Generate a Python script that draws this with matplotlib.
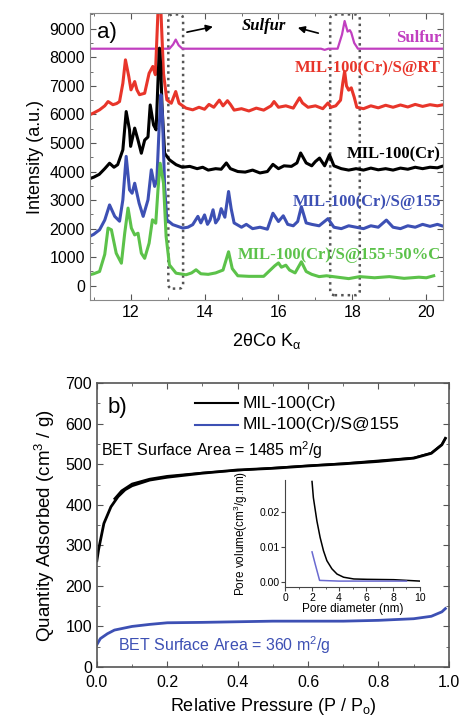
import matplotlib
matplotlib.use('Agg')
import matplotlib.pyplot as plt
from matplotlib.patches import FancyBboxPatch
from matplotlib.ticker import MultipleLocator, FormatStrFormatter

plt.rcParams['font.family'] = ['Liberation Sans', 'DejaVu Sans']
plt.rcParams['mathtext.fontset'] = 'custom'
plt.rcParams['mathtext.rm'] = 'Liberation Sans'
plt.rcParams['mathtext.it'] = 'Liberation Sans:italic'

# ---- panel a: XRD patterns (2theta, intensity) ----
sulfur_x = [10.9, 13.05, 13.15, 13.22, 13.3, 13.4, 17.15, 17.25, 17.35, 17.6, 17.72, 17.79,
            17.87, 17.93, 17.97, 18.05, 18.15, 20.45]
sulfur_y = [8300, 8300, 8450, 8620, 8420, 8300, 8300, 8260, 8300, 8300, 8800, 9270,
            8900, 8950, 8860, 8500, 8300, 8300]

rt_x = [10.89, 11.0, 11.16, 11.3, 11.39, 11.52, 11.62, 11.70, 11.79, 11.86, 11.95, 12.01, 12.11,
        12.17, 12.24, 12.38, 12.5, 12.6, 12.67, 12.74, 12.78, 12.82, 12.89, 12.98, 13.1, 13.22,
        13.31, 13.5, 13.68, 13.85, 14.0, 14.12, 14.25, 14.4, 14.5, 14.62, 14.7, 14.8, 15.0, 15.2,
        15.4, 15.6, 15.8, 15.88, 16.0, 16.2, 16.4, 16.57, 16.65, 16.8, 17.0, 17.2, 17.34, 17.42,
        17.55, 17.68, 17.74, 17.79, 17.84, 17.9, 17.97, 18.05, 18.12, 18.3, 18.5, 18.7, 18.9,
        19.1, 19.3, 19.5, 19.7, 19.9, 20.1, 20.3, 20.42]
rt_y = [5985, 6050, 6160, 6300, 6450, 6340, 6380, 6450, 7090, 7910, 7330, 6860, 7150,
        6860, 6690, 6740, 7440, 7680, 7390, 9600, 9700, 9600, 7430, 6510, 6390, 6800,
        6390, 6220, 6160, 6250, 6180, 6350, 6250, 6500, 6300, 6480, 6350, 6150, 6200, 6120,
        6220, 6150, 6300, 6450, 6250, 6300, 6220, 6580, 6400, 6250, 6300, 6200, 6400, 6250,
        6300, 6500, 7100, 7510, 7000, 6850, 6930, 6600, 6250, 6200, 6300, 6230, 6320,
        6250, 6330, 6260, 6350, 6280, 6340, 6300, 6330]

mil_x = [10.89, 11.0, 11.15, 11.3, 11.43, 11.55, 11.65, 11.79, 11.88, 11.97, 12.0, 12.11, 12.2,
         12.29, 12.38, 12.47, 12.53, 12.62, 12.69, 12.75, 12.78, 12.81, 12.85, 12.92, 13.05,
         13.23, 13.4, 13.6, 13.8, 13.95, 14.1, 14.3, 14.45, 14.59, 14.7, 14.9, 15.1, 15.3, 15.5,
         15.7, 15.85, 16.0, 16.15, 16.35, 16.5, 16.6, 16.75, 16.9, 17.0, 17.11, 17.25, 17.38,
         17.5, 17.7, 17.9, 18.1, 18.3, 18.5, 18.7, 18.9, 19.1, 19.3, 19.5, 19.7, 19.9, 20.1,
         20.3, 20.42]
mil_y = [3750, 3800, 3900, 4100, 4290, 4150, 4240, 4760, 6100, 5460, 4880, 5520, 5100,
         4640, 5100, 5210, 6330, 5630, 5460, 7500, 8320, 7800, 6280, 4640, 4410,
         4240, 4150, 4180, 4100, 4150, 4050, 4100, 4080, 4300, 4100, 4000, 3980, 4050, 3950,
         4000, 4250, 4100, 4200, 4180, 4300, 4650, 4300, 4200, 4350, 4470, 4200, 4590,
         4200, 4100, 4050, 4100, 4050, 4120, 4060, 4100, 4050, 4120, 4080, 4150, 4100, 4150,
         4130, 4180]

s155_x = [10.89, 11.0, 11.16, 11.3, 11.43, 11.57, 11.70, 11.79, 11.88, 11.97, 12.04, 12.11, 12.23,
          12.34, 12.47, 12.56, 12.65, 12.71, 12.77, 12.82, 12.86, 12.92, 12.98, 13.14, 13.41,
          13.55, 13.68, 13.82, 13.9, 14.0, 14.08, 14.15, 14.23, 14.3, 14.38, 14.45, 14.55, 14.65,
          14.72, 14.8, 15.0, 15.13, 15.3, 15.5, 15.7, 15.85, 16.0, 16.13, 16.25, 16.4, 16.52,
          16.62, 16.75, 16.9, 17.1, 17.34, 17.5, 17.7, 17.9, 18.1, 18.3, 18.5, 18.7, 18.92,
          19.1, 19.3, 19.5, 19.7, 19.9, 20.1, 20.3, 20.42]
s155_y = [1730, 1800, 1960, 2300, 2830, 2430, 2260, 3010, 4530, 3360, 3240, 3590, 2890,
          2430, 3010, 4060, 3480, 3710, 5500, 6690, 6000, 3480, 2310, 2140, 2020,
          2050, 2140, 2430, 2200, 2480, 2150, 2300, 2660, 2200, 2350, 2700, 2400, 3300,
          2700, 2200, 2050, 2150, 2000, 2050, 1980, 2540, 2250, 2450, 2150, 2100, 2250,
          2770, 2200, 2150, 2100, 2350, 2050, 2000, 2100, 2050, 2000, 2100, 2050, 2300,
          2050, 2000, 2100, 2050, 2150, 2080, 2150, 2100]

s155c_x = [10.89, 11.0, 11.16, 11.3, 11.39, 11.48, 11.61, 11.75, 11.84, 11.93, 12.02, 12.11, 12.2,
           12.29, 12.38, 12.5, 12.59, 12.68, 12.74, 12.8, 12.89, 12.96, 13.05, 13.23, 13.5,
           13.65, 13.77, 13.9, 14.1, 14.3, 14.5, 14.65, 14.75, 14.9, 15.2, 15.6, 15.9, 16.0,
           16.08, 16.2, 16.3, 16.45, 16.62, 16.75, 16.9, 17.1, 17.3, 17.6, 17.9, 18.2, 18.6,
           19.0, 19.4, 19.8, 20.0, 20.2]
s155c_y = [385, 420, 500, 1100, 2020, 1960, 1140, 790, 1840, 2720, 2020, 1780, 1840,
           1140, 960, 1490, 2310, 2190, 3360, 4290, 3590, 1730, 730, 440, 385,
           450, 560, 420, 400, 450, 550, 1190, 600, 350, 330, 330, 700, 800,
           650, 720, 550, 450, 840, 500, 400, 320, 350, 300, 250, 320, 280,
           320, 260, 300, 280, 350]

xrd_labels = ['Sulfur', 'MIL-100(Cr)/S@RT', 'MIL-100(Cr)', 'MIL-100(Cr)/S@155',
              'MIL-100(Cr)/S@155+50%C']
xrd_label_y = [8680, 7630, 4590, 2950, 1080]

# ---- panel b: N2 isotherms ----
p_ads = [0.0, 0.005, 0.02, 0.04, 0.06, 0.08, 0.1, 0.15, 0.2, 0.3, 0.4, 0.5, 0.6, 0.7,
         0.8, 0.9, 0.95, 0.98, 0.99]
q_mil_ads = [262, 290, 354, 395, 420, 437, 447, 461, 468, 478, 486, 490, 496, 501,
             507, 515, 527, 548, 564]
p_des = [0.99, 0.98, 0.95, 0.9, 0.7, 0.5, 0.3, 0.2, 0.15, 0.1, 0.07, 0.05]
q_mil_des = [564, 549, 528, 516, 502, 491, 479, 471, 464, 452, 435, 415]

p_s = [0.0, 0.01, 0.03, 0.05, 0.1, 0.15, 0.2, 0.3, 0.5, 0.7, 0.8, 0.9, 0.95, 0.98, 0.99]
q_s = [55, 70, 82, 91, 100, 105, 109, 110, 113, 113, 115, 119, 125, 136, 144]

# inset: pore size distribution
d_mil = [2.0, 2.1, 2.36, 2.6, 2.85, 3.1, 3.47, 3.85, 4.34, 5.1, 6.08, 8.06, 10.0]
v_mil = [0.0286, 0.024, 0.0174, 0.0127, 0.0089, 0.0061, 0.0038, 0.0023, 0.0014, 0.0009,
         0.0008, 0.0007, 0.0003]
d_s = [2.0, 2.23, 2.56, 4.0, 9.0]
v_s = [0.0086, 0.0052, 0.0005, 0.0003, 0.0003]

red = '#e8352a'
blue = '#3d50b4'
green = '#5cc24a'
magenta = '#c13fc0'
spine = '#555555'

fig = plt.figure(figsize=(4.59, 7.23), dpi=100)

# ================= panel a =================
ax1 = fig.add_axes([0.196, 0.585, 0.769, 0.397])
ax1.plot(sulfur_x, sulfur_y, color=magenta, lw=1.6)
ax1.plot(rt_x, rt_y, color=red, lw=2.2)
ax1.plot(mil_x, mil_y, color='black', lw=2.2)
ax1.plot(s155_x, s155_y, color=blue, lw=2.2)
ax1.plot(s155c_x, s155c_y, color=green, lw=2.2)
ax1.set_xlim(10.9, 20.45)
ax1.set_ylim(-500, 9550)
ax1.xaxis.set_major_locator(MultipleLocator(2))
ax1.xaxis.set_minor_locator(MultipleLocator(1))
ax1.yaxis.set_major_locator(MultipleLocator(1000))
ax1.yaxis.set_minor_locator(MultipleLocator(500))
ax1.tick_params(which='both', direction='in', top=True, right=True, labelsize=11.5,
                color=spine)
ax1.tick_params(which='major', length=4)
ax1.tick_params(which='minor', length=2.5)
for s in ax1.spines.values():
    s.set_color('#888888')
ax1.set_xlabel(r'2θCo K$_\mathrm{α}$', fontsize=13, labelpad=8)
ax1.set_ylabel('Intensity (a.u.)', fontsize=13, labelpad=4)

label_colors = [magenta, red, 'black', blue, green]
for lab, ly, c in zip(xrd_labels, xrd_label_y, label_colors):
    ax1.text(20.4, ly, lab, color=c, fontsize=12, fontweight='bold',
             family='Liberation Serif', ha='right', va='center')

ax1.text(11.1, 8860, 'a)', fontsize=16, va='center')
ax1.text(15.6, 9110, 'Sulfur', fontsize=12, fontweight='bold', fontstyle='italic',
         family='Liberation Serif', ha='center', va='center')
ax1.annotate('', xy=(14.3, 9090), xytext=(13.45, 8860),
             arrowprops=dict(arrowstyle='-|>', color='black', lw=1.2))
ax1.annotate('', xy=(16.45, 9060), xytext=(17.15, 8820),
             arrowprops=dict(arrowstyle='-|>', color='black', lw=1.2))

for x0, x1, y0, y1 in [(13.02, 13.42, -100, 9500), (17.4, 18.2, -330, 9500)]:
    box = FancyBboxPatch((x0, y0), x1 - x0, y1 - y0,
                         boxstyle='round,pad=0,rounding_size=0.12',
                         mutation_aspect=1300, fill=False, ec='#555555',
                         lw=1.8, ls=(0, (1, 1.6)))
    ax1.add_patch(box)

# ================= panel b =================
ax2 = fig.add_axes([0.211, 0.0775, 0.767, 0.3925])
ax2.plot(p_ads, q_mil_ads, color='black', lw=2)
ax2.plot(p_des, q_mil_des, color='black', lw=1.5)
ax2.plot(p_s, q_s, color=blue, lw=2)
ax2.set_xlim(0, 1.0)
ax2.set_ylim(0, 700)
ax2.xaxis.set_major_locator(MultipleLocator(0.2))
ax2.xaxis.set_minor_locator(MultipleLocator(0.1))
ax2.xaxis.set_major_formatter(FormatStrFormatter('%.1f'))
ax2.yaxis.set_major_locator(MultipleLocator(100))
ax2.yaxis.set_minor_locator(MultipleLocator(50))
ax2.tick_params(which='both', direction='in', top=True, right=True, labelsize=11.5,
                color=spine)
ax2.tick_params(axis='x', pad=6)
ax2.tick_params(which='major', length=4)
ax2.tick_params(which='minor', length=2.5)
for s in ax2.spines.values():
    s.set_color(spine)
    s.set_linewidth(1.2)
ax2.set_xlabel(r'Relative Pressure (P / P$_\mathrm{o}$)', fontsize=13, labelpad=4)
ax2.set_ylabel(r'Quantity Adsorbed (cm$^3$ / g)', fontsize=13.5, labelpad=6)

ax2.text(0.03, 640, 'b)', fontsize=16, va='center')
ax2.plot([0.28, 0.40], [650, 650], color='black', lw=1.5)
ax2.plot([0.28, 0.40], [597, 597], color=blue, lw=1.5)
ax2.text(0.415, 650, 'MIL-100(Cr)', fontsize=12.5, va='center')
ax2.text(0.415, 597, 'MIL-100(Cr)/S@155', fontsize=12.5, va='center')
ax2.text(0.012, 535, r'BET Surface Area = 1485 m$^2$/g', fontsize=11.5, va='center')
ax2.text(0.06, 54, r'BET Surface Area = 360 m$^2$/g', fontsize=11.5, va='center',
         color=blue)

# inset
ax3 = fig.add_axes([0.621, 0.188, 0.294, 0.148])
ax3.plot(d_mil, v_mil, color='black', lw=1.1)
ax3.plot(d_s, v_s, color='#6a6ad0', lw=1.1)
ax3.set_xlim(0, 10)
ax3.set_ylim(-0.0014, 0.029)
ax3.xaxis.set_major_locator(MultipleLocator(2))
ax3.xaxis.set_minor_locator(MultipleLocator(1))
ax3.set_yticks([0.0, 0.01, 0.02])
ax3.set_yticklabels(['0.00', '0.01', '0.02'])
ax3.patch.set_alpha(0)
ax3.spines['top'].set_visible(False)
ax3.spines['right'].set_visible(False)
for s in ['left', 'bottom']:
    ax3.spines[s].set_color('#444444')
    ax3.spines[s].set_linewidth(0.8)
ax3.tick_params(which='both', direction='out', labelsize=7.5, pad=1, color='#444444')
ax3.tick_params(which='major', length=3)
ax3.tick_params(which='minor', length=1.5)
ax3.set_xlabel('Pore diameter (nm)', fontsize=8.5, labelpad=0)
ax3.set_ylabel(r'Pore volume(cm$^3$/g.nm)', fontsize=8.5)
ax3.yaxis.set_label_coords(-0.26, 0.5)

fig.savefig('out.png', dpi=100)
